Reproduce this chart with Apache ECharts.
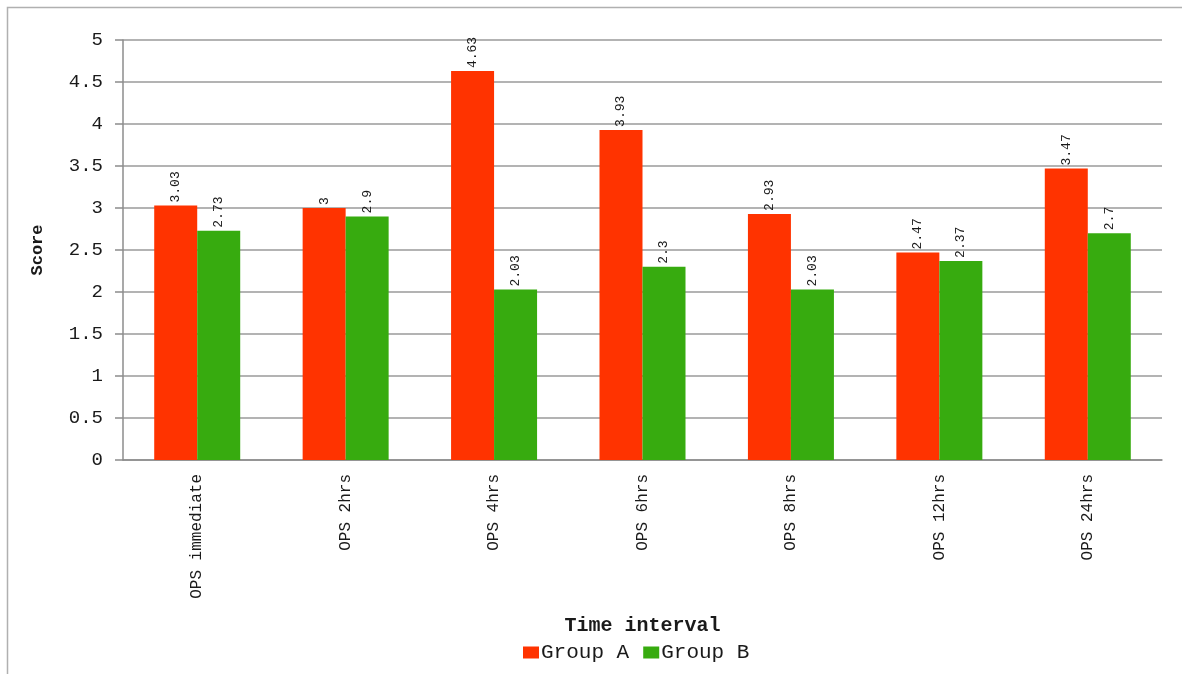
<!DOCTYPE html>
<html>
<head>
<meta charset="utf-8">
<script src="https://cdn.jsdelivr.net/npm/echarts@6/dist/echarts.min.js"></script>
<style>
  html, body { margin: 0; padding: 0; background: #fff; }
  #chart { width: 1182px; height: 674px; }
</style>
</head>
<body>
<div id="chart"></div>
<script>
// Scores per time interval for the two groups
const categories = ['OPS immediate', 'OPS 2hrs', 'OPS 4hrs', 'OPS 6hrs', 'OPS 8hrs', 'OPS 12hrs', 'OPS 24hrs'];
const groupA = [3.03, 3, 4.63, 3.93, 2.93, 2.47, 3.47];
const groupB = [2.73, 2.9, 2.03, 2.3, 2.03, 2.37, 2.7];
const seriesNames = ['Group A', 'Group B'];
const yTicks = { min: 0, max: 5, interval: 0.5 };

const mono = '"Liberation Mono", "DejaVu Sans Mono", monospace';
const textColor = '#1a1a1a';

const valueLabel = {
  show: true,
  position: 'top',
  rotate: 90,
  align: 'left',
  verticalAlign: 'middle',
  distance: 3,
  fontFamily: mono,
  fontSize: 13,
  color: textColor
};

const chart = echarts.init(document.getElementById('chart'), null, { renderer: 'canvas' });
chart.setOption({
  backgroundColor: '#fff',
  animation: false,
  graphic: [{
    type: 'rect',
    shape: { x: 7.5, y: 7.5, width: 1300, height: 800 },
    style: { fill: 'none', stroke: '#b0b0b0', lineWidth: 1.5 },
    silent: true,
    z: -1
  }],
  grid: { left: 123, top: 40, right: 20, bottom: 214, containLabel: false },
  legend: {
    data: seriesNames,
    top: 637,
    left: 518,
    itemWidth: 16,
    itemHeight: 12,
    itemGap: 14,
    icon: 'rect',
    textStyle: { fontFamily: mono, fontSize: 21, color: textColor, padding: [0, 0, 0, -3] }
  },
  xAxis: {
    type: 'category',
    data: categories,
    name: 'Time interval',
    nameLocation: 'middle',
    nameGap: 166,
    nameTextStyle: { fontFamily: mono, fontSize: 20, fontWeight: 'bold', color: textColor, verticalAlign: 'middle' },
    axisLine: { lineStyle: { color: '#8c8c8c', width: 1.5 } },
    axisTick: { show: false },
    axisLabel: {
      rotate: 90,
      margin: 14,
      fontFamily: mono,
      fontSize: 16,
      color: textColor,
      interval: 0
    }
  },
  yAxis: {
    type: 'value',
    min: yTicks.min,
    max: yTicks.max,
    interval: yTicks.interval,
    name: 'Score',
    nameLocation: 'middle',
    nameRotate: 90,
    nameGap: 77,
    nameTextStyle: { fontFamily: mono, fontSize: 17, fontWeight: 'bold', color: textColor },
    axisLine: { show: true, lineStyle: { color: '#8c8c8c', width: 1.5 } },
    axisTick: { show: true, inside: false, length: 8, lineStyle: { color: '#8c8c8c', width: 1.5 } },
    splitLine: { lineStyle: { color: '#9a9a9a', width: 1.5 } },
    axisLabel: {
      margin: 20,
      fontFamily: mono,
      fontSize: 19,
      color: textColor
    }
  },
  series: [
    {
      name: seriesNames[0],
      type: 'bar',
      data: groupA,
      barWidth: 43,
      barGap: '0%',
      itemStyle: { color: '#ff3300' },
      label: valueLabel
    },
    {
      name: seriesNames[1],
      type: 'bar',
      data: groupB,
      barWidth: 43,
      itemStyle: { color: '#37ab0f' },
      label: valueLabel
    }
  ]
});
</script>
</body>
</html>
